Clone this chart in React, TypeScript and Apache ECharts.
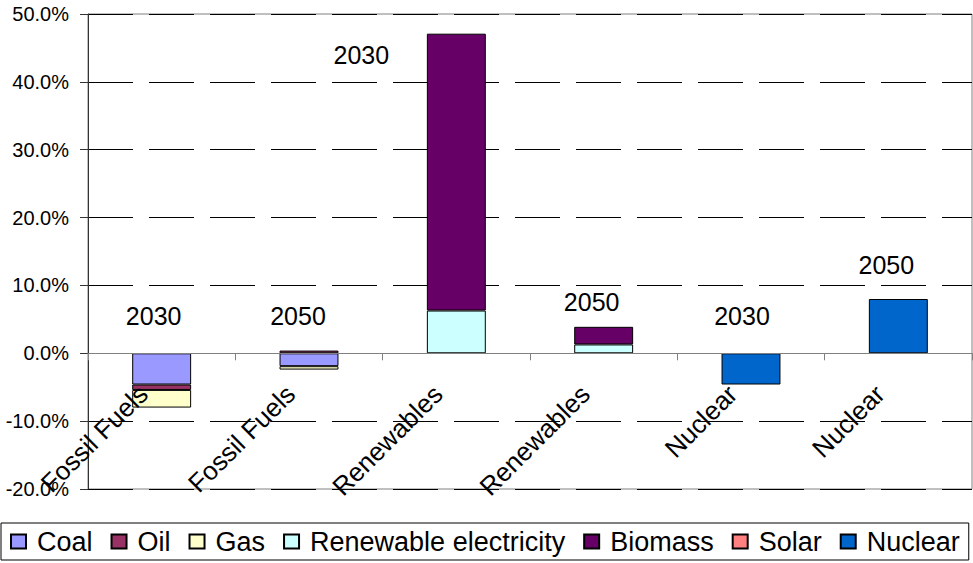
import React, { useEffect, useRef } from "react";
import * as echarts from "echarts";

const categories = ["Fossil Fuels", "Fossil Fuels", "Renewables", "Renewables", "Nuclear", "Nuclear"];
const coal = [-4.6, -1.9, null, null, null, null];
const oil = [-0.8, 0.4, null, null, null, null];
const gas = [-2.6, -0.5, null, null, null, null];
const renewableElectricity = [null, null, 6.3, 1.3, null, null];
const biomass = [null, null, 40.8, 2.6, null, null];
const solar = [null, null, null, null, null, null];
const nuclear = [null, null, null, null, -4.6, 8.0];

const yearTexts = ["2030", "2050", "2030", "2050", "2030", "2050"];
const yearLabelValues = [5.45, 5.45, 43.95, 7.57, 5.5, 13.0];
const yearLabelShift = [-8, -11, -95, -12, -9, -12];

const seriesNames = ["Coal", "Oil", "Gas", "Renewable electricity", "Biomass", "Solar", "Nuclear"];
const seriesValues = [coal, oil, gas, renewableElectricity, biomass, solar, nuclear];
const seriesColors = ["#9999FF", "#993366", "#FFFFCC", "#CCFFFF", "#660066", "#FF8080", "#0066CC"];

const FONT = "Liberation Sans, Arial, sans-serif";
const Y_MIN = -20;
const Y_MAX = 50;
const GRID_TOP = 14;
const GRID_BOTTOM = 74;
const HEIGHT = 563;

export default function App() {
  const ref = useRef<HTMLDivElement>(null);
  useEffect(() => {
    if (!ref.current) return;
    const chart = echarts.init(ref.current, undefined, { renderer: "svg" });
    const plotH = HEIGHT - GRID_TOP - GRID_BOTTOM;
    const zeroLift = (plotH * (0 - Y_MIN)) / (Y_MAX - Y_MIN);
    const bars = seriesNames.map((name, i) => ({
      name,
      type: "bar",
      stack: "total",
      data: seriesValues[i],
      barCategoryGap: "60%",
      itemStyle: { color: seriesColors[i], borderColor: "#000", borderWidth: 1 },
    }));
    const yearSeries = {
      name: "years",
      type: "scatter",
      symbolSize: 1,
      itemStyle: { color: "transparent", opacity: 1 },
      silent: true,
      z: 6,
      data: yearTexts.map((t, i) => ({
        name: t,
        value: [i, yearLabelValues[i]],
        label: { offset: [yearLabelShift[i], 0] },
      })),
      label: {
        show: true,
        position: "inside",
        formatter: (p: any) => p.name,
        fontSize: 25,
        fontFamily: FONT,
        color: "#000",
        opacity: 1,
        textBorderWidth: 0,
      },
    };
    chart.setOption({
      animation: false,
      textStyle: { fontFamily: FONT },
      grid: {
        left: 88,
        right: 1,
        top: GRID_TOP,
        bottom: GRID_BOTTOM,
        outerBoundsMode: "none",
        containLabel: false,
        show: true,
        borderColor: "#808080",
        borderWidth: 1,
        backgroundColor: "#fff",
      },
      legend: {
        data: seriesNames,
        left: 1,
        top: 523,
        padding: [5, 9],
        itemGap: 18,
        itemWidth: 15,
        itemHeight: 14,
        borderColor: "#000",
        borderWidth: 1,
        icon: "rect",
        formatter: (n: string) => "{t|" + n + "}",
        textStyle: {
          fontSize: 27,
          fontFamily: FONT,
          color: "#000",
          rich: { t: { fontSize: 27, fontFamily: FONT, color: "#000", padding: [0, 0, 0, 6] } },
        },
      },
      xAxis: {
        type: "category",
        data: categories,
        z: 5,
        offset: -zeroLift,
        axisLine: { onZero: false, lineStyle: { color: "#808080", width: 1 } },
        axisTick: { show: true, length: 7, lineStyle: { color: "#808080" } },
        axisLabel: {
          rotate: 45,
          interval: 0,
          margin: 18,
          padding: [0, 26, 0, 0],
          fontSize: 26,
          fontFamily: FONT,
          color: "#000",
        },
        splitLine: { show: false },
      },
      yAxis: {
        type: "value",
        min: Y_MIN,
        max: Y_MAX,
        interval: 10,
        axisLine: { show: true, lineStyle: { color: "#333", width: 1 } },
        axisTick: { show: true, length: 8, lineStyle: { color: "#333" } },
        axisLabel: {
          margin: 19,
          fontSize: 20,
          fontFamily: FONT,
          color: "#000",
          formatter: (v: number) => v.toFixed(1) + "%",
        },
        splitLine: { show: true, lineStyle: { color: "#000", width: 1, type: [45, 16] } },
      },
      series: [...bars, yearSeries],
    });
    return () => chart.dispose();
  }, []);
  return (
    <div
      ref={ref}
      style={{ position: "fixed", left: 0, top: 0, width: 973, height: 563, background: "#fff" }}
    />
  );
}
